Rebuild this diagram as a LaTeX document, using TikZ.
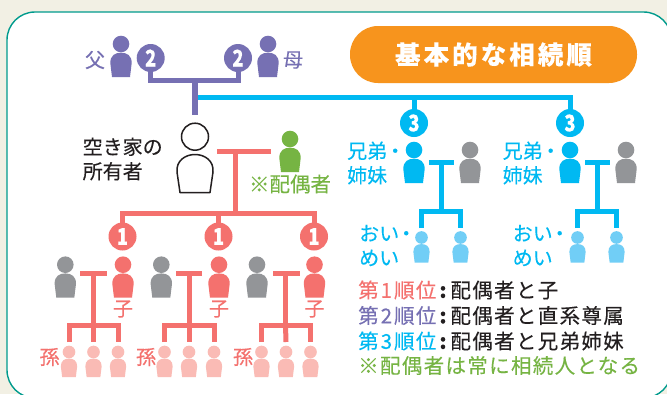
\documentclass[tikz,border=0pt]{standalone}
\usepackage{fontspec}
\setmainfont[FakeBold=0.15]{Noto Sans CJK JP}
\definecolor{bgc}{HTML}{F2F0E4}
\definecolor{teal}{HTML}{009B8D}
\definecolor{pur}{HTML}{7670B3}
\definecolor{blu}{HTML}{00B9F2}
\definecolor{lblu}{HTML}{71CEF6}
\definecolor{red1}{HTML}{F4716E}
\definecolor{pnk}{HTML}{FABBB5}
\definecolor{grn}{HTML}{76B443}
\definecolor{gry}{HTML}{939598}
\definecolor{org}{HTML}{F7941D}
\definecolor{ink}{HTML}{231F20}
\newcommand\fsz[1]{\fontsize{#1}{#1}\selectfont}
\newcommand\person[5]{% name, x, y, scale, colour
  \coordinate (#1) at (#2,#3);
  \fill[#5] (#1) circle[radius=8.3*#4];
  \fill[#5,shift={(#1)},scale=#4] (-9,33) -- (-10.7,19) .. controls (-10.7,11.5) and (-6,8.7) .. (0,8.7)
     .. controls (6,8.7) and (10.7,11.5) .. (10.7,19) -- (9,33) -- cycle;
}
\tikzset{
  x=1pt,y=-1pt,
  conn/.style={line width=5pt,line cap=butt,miter limit=10},
  badge/.style={circle,minimum size=28pt,inner sep=0pt,text=white,font=\fsz{23}\bfseries},
  lbl/.style={inner sep=0pt,anchor=west,align=left,font=\fontsize{20}{24.5}\selectfont},
  lblc/.style={inner sep=0pt,font=\fsz{20}},
}
\begin{document}
\begin{tikzpicture}
\useasboundingbox (0,0) rectangle (667,394);
\clip (0,0) rectangle (667,394);
\fill[bgc] (0,0) rectangle (667,394);
\draw[teal,fill=white,line width=1.4pt,rounded corners=28pt] (7,12) rectangle (671.5,398);

% title
\node[name=title,fill=org,rounded corners=28pt,minimum width=287pt,minimum height=57pt,inner sep=0pt,text=white,
  font=\fsz{25.5}\bfseries] at (493.5,54.5) {\addfontfeature{LetterSpace=12}基本的な相続順};

% junction coordinates
\coordinate (pj) at (195,80);
\coordinate (pe) at (195,115);
\coordinate (bj) at (195,97.5);
\coordinate (rL) at (217,151);
\coordinate (rR) at (271,151);
\coordinate (rT) at (235,151);
\coordinate (rB) at (235,213);

% badges positions (nodes are placed after connectors)
\path (150.7,58) coordinate (p2a) (238,58) coordinate (p2b)
      (414,123) coordinate (p3a) (570,123) coordinate (p3b)
      (122.5,236.5) coordinate (p1a) (218.5,236.5) coordinate (p1b) (314,236.5) coordinate (p1c);

% purple connectors
\draw[conn,pur] (p2a) |- (pj) -| (p2b);
% blue connectors
\draw[conn,blu] (bj) -| (p3b);
\draw[conn,blu] (p3a |- bj) -- (p3a);
\draw[conn,pur,line width=5.5pt] (pj) -- (pe);
% red connectors
\draw[conn,red1] (rL) -- (rR);
\draw[conn,red1] (rT) -- (rB);
\draw[conn,red1] (p1a) |- (rB) -| (p1c);
\draw[conn,red1] (p1b) -- (p1b |- rB);

% children groups
\foreach \n/\tl/\tr/\tc/\la/\lb/\lc/\hg/\hr in {
   a/80/107/93.5/69/93.5/118/65.3/123,
   b/176/202/189/164.5/189/214/161.3/219,
   c/273/299.5/285.5/261.5/286/310.5/257/314.5}{
  \coordinate (tl\n) at (\tl,273.7);
  \coordinate (tr\n) at (\tr,273.7);
  \coordinate (tt\n) at (\tc,273.7);
  \coordinate (tb\n) at (\tc,325);
  \coordinate (ga\n) at (\la,342);
  \coordinate (gb\n) at (\lb,342);
  \coordinate (gc\n) at (\lc,342);
  \draw[conn,red1] (tl\n) -- (tr\n);
  \draw[conn,red1] (tt\n) -- (tb\n);
  \draw[conn,red1] (ga\n) |- (tb\n) -| (gc\n);
  \draw[conn,red1] (tb\n) -- (gb\n);
  \person{sp\n}{\hg}{264.7}{1}{gry}
  \person{ch\n}{\hr}{264.7}{1}{red1}
  \node[lblc,text=red1,name=ko\n] at (\hr,309) {子};
  \person{gca\n}{\la}{352}{0.76}{pnk}
  \person{gcb\n}{\lb}{352}{0.76}{pnk}
  \person{gcc\n}{\lc}{352}{0.76}{pnk}
}
\node[lblc,text=red1,name=ma1] at (49.5,357) {孫};
\node[lblc,text=red1,name=ma2] at (146,357) {孫};
\node[lblc,text=red1,name=ma3] at (243,357) {孫};

% sibling groups
\foreach \n/\hb/\hg/\tl/\tr/\tc/\la/\lb in {
   a/414/470/429/454/441.5/421.5/460.5,
   b/570/626/585/610/597.5/577.5/616.5}{
  \coordinate (sl\n) at (\tl,162);
  \coordinate (sr\n) at (\tr,162);
  \coordinate (st\n) at (\tc,162);
  \coordinate (sb\n) at (\tc,211.5);
  \coordinate (na\n) at (\la,228);
  \coordinate (nb\n) at (\lb,228);
  \draw[conn,blu] (sl\n) -- (sr\n);
  \draw[conn,blu] (st\n) -- (sb\n);
  \draw[conn,blu] (na\n) |- (sb\n) -| (nb\n);
  \person{sib\n}{\hb}{150}{1}{blu}
  \person{sbs\n}{\hg}{150}{1}{gry}
  \person{nea\n}{\la}{237.5}{0.76}{lblu}
  \person{neb\n}{\lb}{237.5}{0.76}{lblu}
}

% badges
\node[badge,fill=pur,name=b2a] at (p2a) {\scalebox{.8}[1]{2}};
\node[badge,fill=pur,name=b2b] at (p2b) {\scalebox{.8}[1]{2}};
\node[badge,fill=blu,name=b3a] at (p3a) {\scalebox{.8}[1]{3}};
\node[badge,fill=blu,name=b3b] at (p3b) {\scalebox{.8}[1]{3}};
\node[badge,fill=red1,name=b1a] at (p1a) {\scalebox{.8}[1]{1}};
\node[badge,fill=red1,name=b1b] at (p1b) {\scalebox{.8}[1]{1}};
\node[badge,fill=red1,name=b1c] at (p1c) {\scalebox{.8}[1]{1}};

% parents
\person{fa}{121}{44}{1}{pur}
\person{mo}{268}{44}{1}{pur}
\node[lblc,text=pur,name=fatxt] at (95,60) {父};
\node[lblc,text=pur,name=motxt] at (293,60) {母};

% owner
\coordinate (own) at (195,136.7);
\draw[ink,line width=1.5pt] (own) circle[radius=13.5];
\draw[ink,line width=1.5pt,line join=round] (180,192.5) -- (177,172) .. controls (176,161) and (185,154.5) .. (195,154.5)
   .. controls (205,154.5) and (214,161) .. (213,172) -- (210,192.5) -- cycle;
\node[lbl,text=ink,name=owntxt] at (82.5,159) {空き家の\\所有者};

% spouse
\person{spo}{290}{139}{1}{grn}
\node[lblc,text=grn,name=spotxt,font=\fsz{20.5}] at (290,184) {※配偶者};

% sibling labels
\node[lbl,text=blu,name=sa] at (347,163) {兄弟\kern-2pt・\\姉妹};
\node[lbl,text=blu,name=sb] at (502.5,163) {兄弟\kern-2pt・\\姉妹};
\node[lbl,text=blu,name=oa] at (359,245.5) {おい\kern-3pt・\\めい};
\node[lbl,text=blu,name=ob] at (512.5,245.5) {おい\kern-3pt・\\めい};

% legend
\tikzset{leg/.style={inner sep=0pt,anchor=west,text=ink,font=\fsz{20.5}}}
\node[leg,name=l1] at (358,290) {\addfontfeature{LetterSpace=6.5}\textcolor{red1}{第\kern2pt 1\kern2pt 順位}\kern3pt\textbf{:}\kern2.5pt配偶者と子};
\node[leg,name=l2] at (358,315.5) {\addfontfeature{LetterSpace=6.5}\textcolor{pur}{第\kern2pt 2\kern2pt 順位}\kern3pt\textbf{:}\kern2.5pt配偶者と直系尊属};
\node[leg,name=l3] at (358,341) {\addfontfeature{LetterSpace=6.5}\textcolor{blu}{第\kern2pt 3\kern2pt 順位}\kern3pt\textbf{:}\kern2.5pt配偶者と兄弟姉妹};
\node[leg,text=grn,name=l4] at (358,365.5) {\addfontfeature{LetterSpace=6.5}※配偶者は常に相続人となる};
\end{tikzpicture}
\end{document}
